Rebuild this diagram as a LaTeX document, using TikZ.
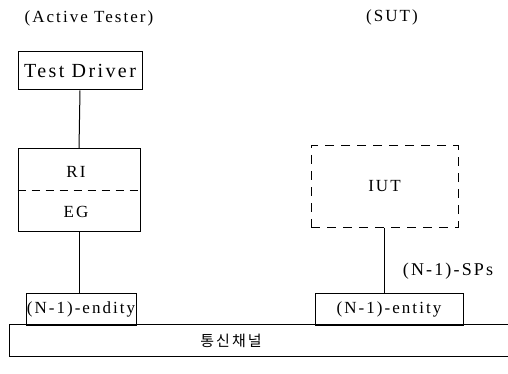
\documentclass[tikz,border=0pt]{standalone}
\usepackage{fontspec}
\setmainfont{Liberation Serif}
\newfontfamily\lblfont[LetterSpace=12]{Liberation Serif}
\newfontfamily\krfont[LetterSpace=14]{Noto Sans CJK KR}
\usetikzlibrary{positioning}

\begin{document}
\begin{tikzpicture}[x=1pt,y=-1pt,
				box/.style={draw,line width=1pt,inner sep=0pt,
					font=\lblfont\fontsize{17}{20}\selectfont},
				dbox/.style={box,dash pattern=on 9pt off 7pt},
				lbl/.style={inner sep=0pt,font=\lblfont\fontsize{17}{20}\selectfont},
				link/.style={line width=1pt}]
				\useasboundingbox (0,0) rectangle (508,374);
				% tester side
				\node[lbl] (tester) at (89,18) {(Active Tester)};
				\node[box,minimum width=124,minimum height=38,
					font=\lblfont\fontsize{20}{22}\selectfont] (driver) at (80,71) {Test Driver};
				\node[box,minimum width=122,minimum height=82] (pe) at (79,190) {};
				\node[lbl] (ri) at (76,172) {RI};
				\node[lbl] (eg) at (76,212) {EG};
				\draw[link,dash pattern=on 8pt off 6pt] (pe.west) -- (pe.east);
				\node[box,minimum width=110,minimum height=32] (ent1) at (81,309) {(N-1)-endity};
				% SUT side
				\node[lbl] (sut) at (392,17) {(SUT)};
				\node[dbox,minimum width=147,minimum height=81] (iut) at (384.5,186.5) {IUT};
				\node[box,minimum width=148,minimum height=32] (ent2) at (389,309) {(N-1)-entity};
				\node[lbl,font=\lblfont\fontsize{18}{20}\selectfont] (sps) at (448,271) {(N-1)-SPs};
				% channel
				\node[minimum width=498,minimum height=31,inner sep=0pt] (chan) at (259,340.5) {};
				\node[inner sep=0pt,font=\krfont\fontsize{15}{17}\selectfont] (chtxt) at (231,341) {통신채널};
				\draw[link] (chan.north east) -- (chan.north west) -- (chan.south west) -- (chan.south east);
				% connectors
				\draw[link] (driver.south) -- (pe.north);
				\draw[link] (pe.south) -- (pe.south |- ent1.north);
				\draw[link] (iut.south) -- (iut.south |- ent2.north);
			\end{tikzpicture}
\end{document}
